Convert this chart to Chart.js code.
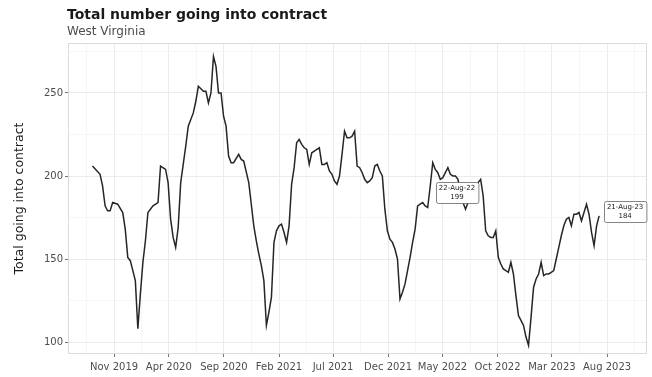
<!DOCTYPE html>
<html><head><meta charset="utf-8">
<script src="https://cdn.jsdelivr.net/npm/chart.js@4/dist/chart.umd.min.js"></script>
<style>html,body{margin:0;padding:0;background:#fff}#wrap{width:652px;height:377px}</style>
</head><body><div id="wrap"><canvas id="c" width="652" height="377"></canvas></div>
<script>
// ---- data ----
const titleText = 'Total number going into contract';
const subtitleText = 'West Virginia';
const yAxisTitle = 'Total going into contract';
const startDate = '2019-09-02';           // date of week 0 (weekly series)
const weekNo = [0,3,4,5,6,7,8,10,12,13,14,15,17,18,19,20,21,22,24,26,27,29,30,31,32,33,34,35,36,37,38,40,41,42,44,45,46,47,48,49,50,51,52,53,54,55,56,58,59,60,62,63,64,65,66,67,68,69,70,71,72,73,74,75,76,77,78,79,80,81,82,83,84,85,86,87,88,89,90,91,92,93,94,95,96,97,98,99,100,101,102,103,104,105,106,107,108,109,110,111,112,113,114,115,116,117,118,119,120,121,122,123,124,125,126,127,128,129,130,131,132,133,134,135,136,137,138,139,140,141,142,143,144,145,146,147,148,149,150,151,152,153,154,155,156,157,158,159,160,161,162,163,164,165,166,167,168,169,170,171,172,173,174,175,176,177,178,179,180,181,182,183,184,185,186,187,188,189,190,191,192,193,194,195,196,197,198,199,200,201];
const values = [206,201,194,182,179,179,184,183,178,168,151,149,137,108,129,148,161,178,182,184,206,204,196,174,163,157,169,196,207,218,230,238,245,254,251,251,244,250,272,266,250,250,236,230,212,208,208,213,210,209,196,183,170,161,153,146,137,110,118,127,160,167,170,171,166,160,170,195,205,220,222,219,217,216,207,214,215,216,217,207,207,208,203,201,197,195,200,213,227,223,223,224,227,206,205,202,198,196,197,199,206,207,203,200,180,167,162,160,156,150,126,130,135,143,151,160,168,182,183,184,182,181,194,208,204,202,198,199,202,205,201,200,200,198,190,184,180,184,188,190,194,196,198,188,167,164,163,163,167,151,147,144,143,142,148,141,128,116,113,110,103,98,115,133,138,141,148,140,141,141,142,143,150,157,164,170,174,175,170,177,177,178,173,178,183,177,166,158,170,176];
const tickMonths = ['2019-11','2020-04','2020-09','2021-02','2021-07','2021-12','2022-05','2022-10','2023-03','2023-08'];
const tickLabels = ['Nov 2019','Apr 2020','Sep 2020','Feb 2021','Jul 2021','Dec 2021','May 2022','Oct 2022','Mar 2023','Aug 2023'];
const yTicks = [100,150,200,250];
const annotWeeks = [149,201];
const annotDates = ['22-Aug-22','21-Aug-23'];
const annotValues = [199,184];

// ---- helpers ----
const EPOCH = Date.UTC(2019,10,1);
function dayOf(s){const p=s.split('-').map(Number);return (Date.UTC(p[0],p[1]-1,p[2]||1)-EPOCH)/86400000;}
const startDay = dayOf(startDate);
const points = weekNo.map((w,i)=>({x:startDay+7*w,y:values[i]}));
const majorX = tickMonths.map(m=>dayOf(m));
const minorX = [];
for(let i=0;i<majorX.length-1;i++) minorX.push((majorX[i]+majorX[i+1])/2);
minorX.unshift(majorX[0]-(majorX[1]-majorX[0])/2);
minorX.push(majorX[majorX.length-1]+(majorX[1]-majorX[0])/2);
const allX = majorX.concat(minorX).sort((a,b)=>a-b);
const yMinor = [];
for(let i=0;i<yTicks.length;i++){yMinor.push(yTicks[i]+25);}
const allY = yTicks.concat(yMinor).sort((a,b)=>a-b);

const FONT = "'DejaVu Sans', sans-serif";

const deco = {
  id:'deco',
  beforeDatasetsDraw(chart){
    const a = chart.chartArea, ctx = chart.ctx;
    ctx.save();
    ctx.strokeStyle = '#dcdcdc'; ctx.lineWidth = 1;
    ctx.strokeRect(a.left+0.5, a.top+0.5, a.right-a.left-1, a.bottom-a.top-1);
    ctx.restore();
  },
  afterDraw(chart){
    const ctx = chart.ctx;
    ctx.save();
    ctx.fillStyle = '#1a1a1a';
    ctx.font = "bold 14px " + FONT;
    ctx.textBaseline = 'alphabetic'; ctx.textAlign = 'left';
    ctx.fillText(titleText, 67, 19);
    ctx.fillStyle = '#4d4d4d';
    ctx.font = "12px " + FONT;
    ctx.fillText(subtitleText, 67, 35);
    // annotation labels
    const xs = chart.scales.x, ys = chart.scales.y;
    const offs = [[-11,-10],[26,-4]];
    ctx.font = "7px " + FONT;
    annotWeeks.forEach((w,i)=>{
      const idx = weekNo.indexOf(w);
      const px = xs.getPixelForValue(startDay+7*w);
      const py = ys.getPixelForValue(values[idx]);
      const cx = px+offs[i][0], cy = py+offs[i][1];
      const l1 = annotDates[i], l2 = String(annotValues[i]);
      const tw = Math.max(ctx.measureText(l1).width, ctx.measureText(l2).width);
      const bw = tw+6, bh = 21;
      const x0 = Math.round(cx-bw/2)+0.5, y0 = Math.round(cy-bh/2)+0.5;
      ctx.fillStyle = '#fff'; ctx.strokeStyle = '#666'; ctx.lineWidth = 0.8;
      ctx.beginPath();
      if (ctx.roundRect) ctx.roundRect(x0,y0,bw,bh,2); else ctx.rect(x0,y0,bw,bh);
      ctx.fill(); ctx.stroke();
      ctx.fillStyle = '#222'; ctx.textAlign = 'center'; ctx.textBaseline = 'middle';
      ctx.fillText(l1, cx, y0+6);
      ctx.fillText(l2, cx, y0+15);
    });
    ctx.restore();
  }
};

new Chart(document.getElementById('c'), {
  type:'line',
  data:{datasets:[{data:points, borderColor:'#262626', borderWidth:1.5, pointRadius:0, tension:0, fill:false}]},
  options:{
    responsive:false, animation:false, devicePixelRatio:1,
    layout:{padding:{top:43,right:5,left:0,bottom:0}},
    plugins:{legend:{display:false}, tooltip:{enabled:false}, title:{display:false}},
    scales:{
      x:{type:'linear', min:-128, max:1480,
        afterBuildTicks(s){ s.ticks = allX.map(v=>({value:v})); },
        afterFit(s){ s.height = 23; },
        border:{display:false},
        grid:{color:c=>majorX.includes(c.tick.value)?'#ebebeb':'#f6f6f6', lineWidth:1, tickLength:3,
              tickColor:c=>majorX.includes(c.tick.value)?'#777':'rgba(0,0,0,0)'},
        ticks:{autoSkip:false, maxRotation:0, padding:4, color:'#4d4d4d', font:{family:FONT,size:10},
          callback:(v)=>{const i=majorX.indexOf(v);return i>=0?tickLabels[i]:'';}}
      },
      y:{min:92.8, max:280.1,
        afterBuildTicks(s){ s.ticks = allY.map(v=>({value:v})); },
        afterFit(s){ s.width = 68; },
        border:{display:false},
        grid:{color:c=>yTicks.includes(c.tick.value)?'#ebebeb':'#f6f6f6', lineWidth:1, tickLength:3,
              tickColor:c=>yTicks.includes(c.tick.value)?'#777':'rgba(0,0,0,0)'},
        ticks:{autoSkip:false, padding:2, color:'#4d4d4d', font:{family:FONT,size:10},
          callback:(v)=>yTicks.includes(v)?String(v):''},
        title:{display:true, text:yAxisTitle, color:'#1a1a1a', font:{family:FONT,size:12.5}, padding:{top:12,bottom:4}}
      }
    }
  },
  plugins:[deco]
});
</script></body></html>
